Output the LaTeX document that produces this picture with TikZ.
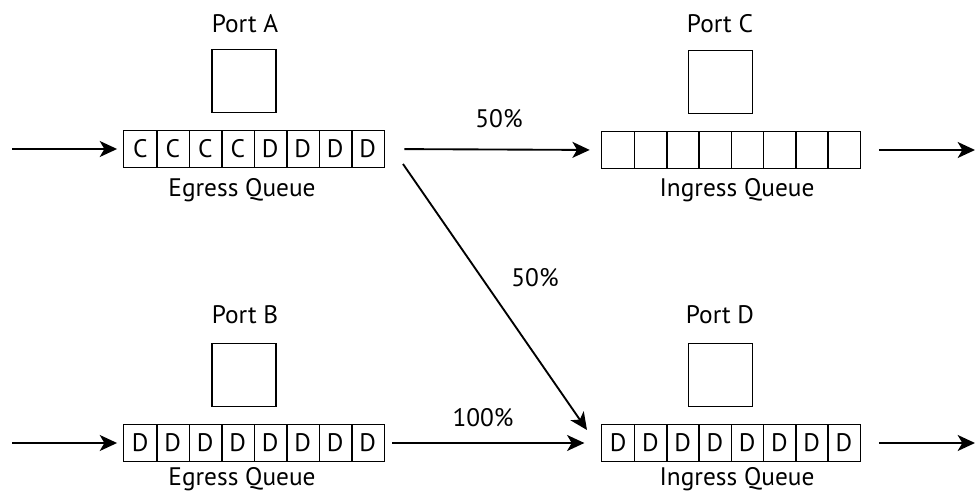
\documentclass[tikz,border=0pt]{standalone}
\usepackage{fontspec}
\setmainfont{PT Sans}
\usetikzlibrary{arrows.meta}
\newcommand{\qfont}{\fontsize{19}{22}\selectfont}

\begin{document}
\begin{tikzpicture}[x=0.75pt,y=0.75pt,yscale=-1,xscale=1,
  cellA/.style={minimum width=24.375pt,minimum height=27pt,inner sep=0pt,font=\qfont},
  cellC/.style={cellA,minimum width=24.2pt},
  edge/.style={line width=1.1pt},
  portbox/.style={draw,line width=1.1pt,minimum width=48pt,minimum height=47pt,inner sep=0pt},
  txt/.style={inner sep=0.75pt,font=\qfont},
  flow/.style={line width=1.4pt,-{Stealth[length=13pt,width=12pt,inset=3.5pt]}}]
\useasboundingbox (0,0) rectangle (976,496);

%Shape: Square
\node[portbox] (pA) at (244,81) {};
\node[portbox] (pB) at (244,375) {};
\node[portbox] (pC) at (720.5,82) {};
\node[portbox] (pD) at (720.5,375) {};

%Shape: Queues
\foreach \t [count=\i] in {C,C,C,C,D,D,D,D}
  \node[cellA] (qA\i) at ({124+(\i-0.5)*32.5},149) {\t};
\foreach \t [count=\i] in {D,D,D,D,D,D,D,D}
  \node[cellA] (qB\i) at ({124+(\i-0.5)*32.5},443) {\t};
\foreach \i in {1,...,8}
  \node[cellC] (qC\i) at ({602+(\i-0.5)*32.25},150) {};
\foreach \t [count=\i] in {D,D,D,D,D,D,D,D}
  \node[cellC] (qD\i) at ({602+(\i-0.5)*32.25},443) {\t};

\foreach \q in {qA,qB,qC,qD}{
  \draw[edge] (\q1.north west) rectangle (\q8.south east);
  \foreach \i in {1,...,7}
    \draw[edge] (\q\i.north east) -- (\q\i.south east);
}

% Text Node
\node[txt] (tA) at (245,24) {Port A};
\node[txt] (tB) at (245,315) {Port B};
\node[txt] (tC) at (720,24) {Port C};
\node[txt] (tD) at (720,315) {Port D};
\node[txt] (eA) at (242,190) {Egress Queue};
\node[txt] (eB) at (242,479) {Egress Queue};
\node[txt] (iC) at (737,190) {Ingress Queue};
\node[txt] (iD) at (737,479) {Ingress Queue};
\node[txt] (rAC) at (499,119) {50\%};
\node[txt] (rAD) at (535,278) {50\%};
\node[txt] (rBD) at (483,418) {100\%};

%Straight Lines
\coordinate (inA) at (12,149);
\coordinate (inB) at (12,443);
\coordinate (outC) at (975,150);
\coordinate (outD) at (975,443);
\coordinate (dgS) at (403,164);
\coordinate (dgE) at (587,430);

\draw[flow,shorten >=5pt] (inA) -- (qA1.west);
\draw[flow,shorten >=5pt] (inB) -- (qB1.west);
\draw[flow,shorten <=15pt,shorten >=9pt] (qA8.east) -- (qC1.west);
\draw[flow,shorten <=6pt,shorten >=13pt] (qB8.east) -- (qD1.west);
\draw[flow] (dgS) -- (dgE);
\draw[flow,shorten <=14pt] (qC8.east) -- (outC);
\draw[flow,shorten <=14pt] (qD8.east) -- (outD);

\end{tikzpicture}
\end{document}
